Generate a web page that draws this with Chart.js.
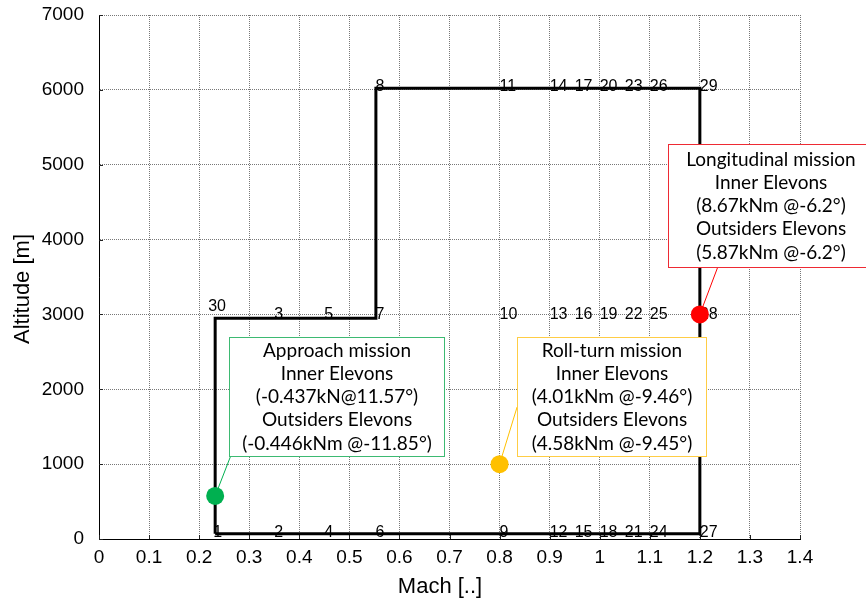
<!DOCTYPE html>
<html>
<head>
<meta charset="utf-8">
<script src="https://cdn.jsdelivr.net/npm/chart.js@4.4.0/dist/chart.umd.min.js"></script>
<style>
  body { margin: 0; background: #fff; }
  #wrap { width: 866px; height: 599px; }
</style>
</head>
<body>
<div id="wrap"><canvas id="envChart"></canvas></div>
<script>
// flight envelope outline (Mach, altitude [m])
const envelopeMach = [0.232, 0.232, 0.553, 0.553, 1.2, 1.2, 0.232];
const envelopeAlt = [70, 2950, 2950, 6020, 6020, 70, 70];

// numbered test points along the envelope
const pointIds = [1, 2, 4, 6, 9, 12, 15, 18, 21, 24, 27,
  30, 3, 5, 7, 10, 13, 16, 19, 22, 25, 28,
  8, 11, 14, 17, 20, 23, 26, 29];
const pointMach = [0.228, 0.35, 0.45, 0.552, 0.8, 0.9, 0.95, 1.0, 1.05, 1.1, 1.2,
  0.218, 0.35, 0.45, 0.552, 0.8, 0.9, 0.95, 1.0, 1.05, 1.1, 1.2,
  0.552, 0.8, 0.9, 0.95, 1.0, 1.05, 1.1, 1.2];
const pointAlt = [80, 80, 80, 80, 80, 80, 80, 80, 80, 80, 80,
  3100, 3000, 3000, 3000, 3000, 3000, 3000, 3000, 3000, 3000, 3000,
  6050, 6050, 6050, 6050, 6050, 6050, 6050, 6050];

// sizing missions
const missionNames = ["Approach mission", "Roll-turn mission", "Longitudinal mission"];
const missionMach = [0.232, 0.8, 1.2];
const missionAlt = [575, 1000, 3000];
const innerElevons = ["(-0.437kN@11.57°)", "(4.01kNm @-9.46°)", "(8.67kNm @-6.2°)"];
const outerElevons = ["(-0.446kNm @-11.85°)", "(4.58kNm @-9.45°)", "(5.87kNm @-6.2°)"];

// axis tick labels
const machTicks = ["0", "0.1", "0.2", "0.3", "0.4", "0.5", "0.6", "0.7", "0.8", "0.9", "1", "1.1", "1.2", "1.3", "1.4"];
const altTicks = ["0", "1000", "2000", "3000", "4000", "5000", "6000", "7000"];

const missionColors = ["#00B050", "#FFC000", "#FF0000"];
const boxColors = ["#3DBA72", "#FFCD45", "#EE2A33"];

// callout boxes placed in axis units: [left, right, top, bottom], leader start [x, y]
const callouts = [
  { box: [0.260, 0.689, 2698, 1109], lead: [0.263, 1109] },
  { box: [0.835, 1.212, 2694, 1109], lead: [0.835, 1763] },
  { box: [1.136, 1.545, 5273, 3637], lead: [1.236, 3637] },
];

const tickFont = { family: "Liberation Sans", size: 19 };

// point numbers and leader lines, drawn right after the label dataset
const pointLabels = {
  id: "pointLabels",
  afterDatasetDraw(chart, args) {
    if (args.index !== 1) return;
    const ctx = chart.ctx;
    const xs = chart.scales.x, ys = chart.scales.y;
    ctx.save();
    ctx.font = "16px 'Liberation Sans'";
    ctx.fillStyle = "#000";
    ctx.textAlign = "left";
    ctx.textBaseline = "middle";
    args.meta.data.forEach((el, i) => ctx.fillText(String(pointIds[i]), el.x, el.y));

    ctx.lineWidth = 1;
    callouts.forEach((c, i) => {
      ctx.strokeStyle = missionColors[i];
      ctx.beginPath();
      ctx.moveTo(xs.getPixelForValue(c.lead[0]), ys.getPixelForValue(c.lead[1]));
      ctx.lineTo(xs.getPixelForValue(missionMach[i]), ys.getPixelForValue(missionAlt[i]));
      ctx.stroke();
    });
    ctx.restore();
  },
};

// callout boxes, inward ticks and axis titles
const overlay = {
  id: "overlay",
  beforeDatasetsDraw(chart) {
    const ctx = chart.ctx;
    const xs = chart.scales.x, ys = chart.scales.y;
    const a = chart.chartArea;
    ctx.save();
    ctx.strokeStyle = "#222";
    ctx.lineWidth = 1;
    ctx.beginPath();
    xs.ticks.forEach(t => {
      const px = Math.round(xs.getPixelForValue(t.value)) + 0.5;
      ctx.moveTo(px, a.bottom);
      ctx.lineTo(px, a.bottom - 4);
    });
    ys.ticks.forEach(t => {
      const py = Math.round(ys.getPixelForValue(t.value)) + 0.5;
      ctx.moveTo(a.left, py);
      ctx.lineTo(a.left + 4, py);
    });
    ctx.stroke();
    ctx.restore();
  },
  afterDatasetsDraw(chart) {
    const ctx = chart.ctx;
    const xs = chart.scales.x, ys = chart.scales.y;
    ctx.save();
    callouts.forEach((c, i) => {
      const l = Math.round(xs.getPixelForValue(c.box[0])) + 0.5;
      const r = Math.round(xs.getPixelForValue(c.box[1])) + 0.5;
      const t = Math.round(ys.getPixelForValue(c.box[2])) + 0.5;
      const b = Math.round(ys.getPixelForValue(c.box[3])) + 0.5;
      ctx.fillStyle = "#fff";
      ctx.fillRect(l, t, r - l, b - t);
      ctx.strokeStyle = boxColors[i];
      ctx.lineWidth = 1;
      ctx.strokeRect(l, t, r - l, b - t);

      const lines = [missionNames[i], "Inner Elevons", innerElevons[i], "Outsiders Elevons", outerElevons[i]];
      const lh = 23.3;
      const cx = (l + r) / 2;
      const y0 = (t + b) / 2 - lh * 2;
      ctx.fillStyle = "#000";
      ctx.font = "19px Lato";
      ctx.textAlign = "center";
      ctx.textBaseline = "middle";
      lines.forEach((s, k) => ctx.fillText(s, cx, y0 + k * lh));
    });

    ctx.font = "22px 'Liberation Sans'";
    ctx.fillStyle = "#000";
    ctx.textAlign = "center";
    ctx.textBaseline = "middle";
    ctx.fillText("Mach [..]", 440, 587);
    ctx.translate(23, 289);
    ctx.rotate(-Math.PI / 2);
    ctx.fillText("Altitude [m]", 0, 0);
    ctx.restore();
  },
};

new Chart(document.getElementById("envChart"), {
  type: "scatter",
  data: {
    datasets: [
      {
        label: "missions",
        data: missionMach.map((m, i) => ({ x: m, y: missionAlt[i] })),
        pointRadius: 9,
        pointBackgroundColor: missionColors,
        pointBorderWidth: 0,
        order: 0,
      },
      {
        label: "points",
        data: pointMach.map((m, i) => ({ x: m, y: pointAlt[i] })),
        pointRadius: 0,
        order: 1,
      },
      {
        label: "envelope",
        data: envelopeMach.map((m, i) => ({ x: m, y: envelopeAlt[i] })),
        showLine: true,
        borderColor: "#000",
        borderWidth: 3,
        pointRadius: 0,
        order: 2,
      },
    ],
  },
  options: {
    responsive: true,
    maintainAspectRatio: false,
    animation: false,
    devicePixelRatio: 1,
    events: [],
    layout: { padding: { top: 15, right: 66, left: 0, bottom: 0 } },
    plugins: { legend: { display: false }, tooltip: { enabled: false } },
    scales: {
      x: {
        type: "linear",
        min: 0,
        max: 1.4,
        afterFit: s => { s.height = 60; s.paddingLeft = 0; s.paddingRight = 0; },
        afterBuildTicks: s => { s.ticks = machTicks.map(v => ({ value: Number(v) })); },
        ticks: {
          font: tickFont,
          color: "#000",
          padding: 7,
          maxRotation: 0,
          autoSkip: false,
          callback: (v, i) => machTicks[i],
        },
        grid: { color: "#777", drawTicks: false },
        border: { display: true, color: "#000", width: 1, dash: [1, 1] },
      },
      y: {
        type: "linear",
        min: 0,
        max: 7000,
        afterFit: s => { s.width = 99; s.paddingTop = 0; s.paddingBottom = 0; },
        afterBuildTicks: s => { s.ticks = altTicks.map(v => ({ value: Number(v) })); },
        ticks: {
          font: tickFont,
          color: "#000",
          padding: 15,
          autoSkip: false,
          callback: (v, i) => altTicks[i],
        },
        grid: { color: "#777", drawTicks: false },
        border: { display: true, color: "#000", width: 1, dash: [1, 1] },
      },
    },
  },
  plugins: [pointLabels, overlay],
});
</script>
</body>
</html>
